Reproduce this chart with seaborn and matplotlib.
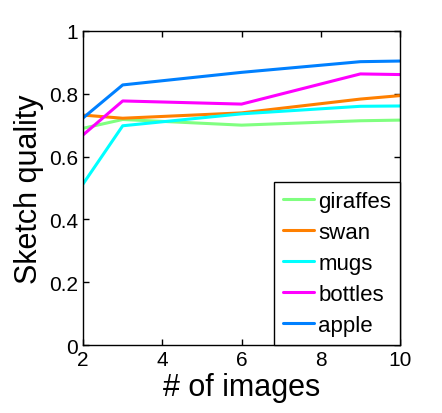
import matplotlib
matplotlib.use("Agg")
import matplotlib.pyplot as plt
import seaborn as sns
import pandas as pd

# data
num_images = [2, 3, 6, 9, 10]
giraffes = [0.690, 0.718, 0.700, 0.714, 0.716]
swan = [0.732, 0.722, 0.739, 0.783, 0.794]
mugs = [0.513, 0.698, 0.736, 0.760, 0.761]
bottles = [0.669, 0.777, 0.767, 0.863, 0.861]
apple = [0.723, 0.828, 0.868, 0.902, 0.904]

names = ["giraffes", "swan", "mugs", "bottles", "apple"]
colors = ["#80ff80", "#ff8000", "#00ffff", "#ff00ff", "#0080ff"]

rows = []
for name, vals in zip(names, [giraffes, swan, mugs, bottles, apple]):
    for x, v in zip(num_images, vals):
        rows.append({"images": x, "quality": v, "object": name})
df = pd.DataFrame(rows)

sns.set_style("ticks")
plt.rcParams['font.family'] = ['Liberation Sans', 'DejaVu Sans']
plt.rcParams['text.color'] = 'black'
plt.rcParams['axes.labelcolor'] = 'black'

fig = plt.figure(figsize=(4.42, 4.14), dpi=100)
ax = fig.add_axes([0.188, 0.164, 0.717, 0.759])

sns.lineplot(data=df, x="images", y="quality", hue="object",
             palette=dict(zip(names, colors)), hue_order=names,
             linewidth=2.2, ax=ax, errorbar=None)

ax.set_xlim(2, 10)
ax.set_ylim(0, 1)
ax.set_xticks([2, 4, 6, 8, 10])
ax.set_yticks([0, 0.2, 0.4, 0.6, 0.8, 1])
ax.set_yticklabels(["0", "0.2", "0.4", "0.6", "0.8", "1"])
ax.tick_params(direction="in", top=True, right=True, labelsize=15, length=4, width=1,
               colors="black", labelcolor="black")
for s in ax.spines.values():
    s.set_linewidth(1)
    s.set_color("black")
ax.set_xlabel("# of images", fontsize=22, labelpad=2, color="black")
ax.set_ylabel("Sketch quality", fontsize=22, labelpad=4, color="black")

leg = ax.legend(loc="lower right", fontsize=16, frameon=True, fancybox=False,
                borderaxespad=0, handlelength=1.4, handletextpad=0.2,
                labelspacing=0.45, borderpad=0.4)
leg.get_frame().set_edgecolor("black")
leg.get_frame().set_linewidth(1)
leg.get_frame().set_alpha(1)
for h in leg.get_lines():
    h.set_linewidth(2.2)
for t in leg.get_texts():
    t.set_color("black")

fig.savefig("out.png", dpi=100)
